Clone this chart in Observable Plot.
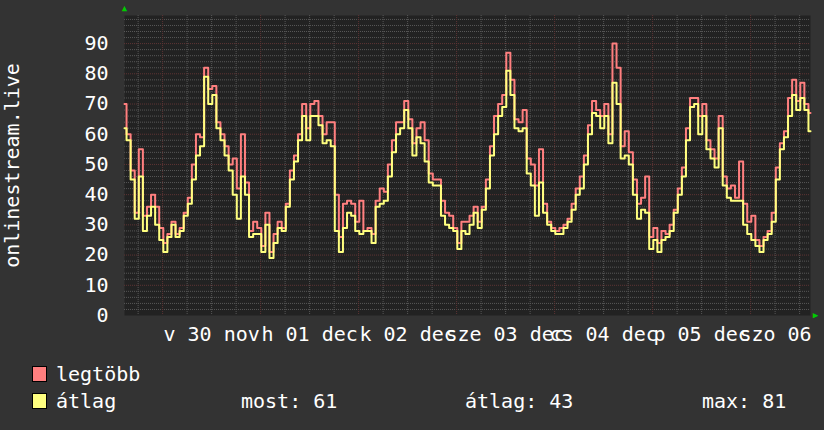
<!DOCTYPE html>
<html>
<head>
<meta charset="utf-8">
<script src="https://cdn.jsdelivr.net/npm/d3@7"></script>
<script src="https://cdn.jsdelivr.net/npm/@observablehq/plot@0.6"></script>
<style>
  html, body { margin: 0; padding: 0; background: #333333; }
  #wrap { position: relative; width: 824px; height: 430px; background: #333333; overflow: hidden; }
  #legend { position: relative; width: 824px; height: 85px; font-family: "DejaVu Sans Mono", monospace; font-size: 20px; line-height: 20px; color: #ffffff; }
  #legend .t { position: absolute; white-space: pre; }
  #legend .box { position: absolute; width: 13px; height: 14px; border: 1px solid #000; }
</style>
</head>
<body>
<div id="wrap">
  <div id="chart"></div>
  <div id="legend"></div>
</div>
<script>
// ---- data (hourly readings, starting 2025-11-29 14:40 UTC) ----
const startTime = "2025-11-29T14:40:00Z";
const endTime = "2025-12-06T14:40:00Z";

// "legtöbb" (maximum) series
const maxValues = [
  70, 60, 48, 34, 55, 33, 36, 40, 36, 29, 24, 27, 31, 27, 29, 34, 39, 50, 60, 59,
  82, 75, 76, 64, 60, 56, 50, 52, 42, 60, 44, 28, 31, 29, 23, 34, 21, 27, 31, 29,
  37, 48, 53, 60, 70, 62, 70, 71, 66, 60, 64, 64, 40, 26, 37, 38, 37, 31, 38, 28,
  29, 27, 38, 42, 41, 50, 58, 64, 64, 71, 65, 57, 62, 64, 58, 47, 45, 45, 38, 34,
  33, 29, 24, 31, 31, 33, 36, 31, 36, 45, 56, 66, 70, 73, 87, 78, 65, 64, 68, 52,
  50, 43, 55, 37, 31, 29, 28, 29, 30, 32, 37, 42, 46, 53, 63, 71, 68, 66, 70, 60,
  90, 82, 56, 61, 54, 45, 37, 39, 46, 26, 29, 24, 28, 27, 30, 35, 42, 49, 62, 72,
  72, 66, 70, 58, 55, 52, 66, 46, 42, 43, 39, 51, 37, 31, 33, 25, 23, 26, 28, 34,
  49, 57, 61, 72, 78, 71, 77, 70, 67
];

// "átlag" (average) series
const avgValues = [
  62, 58, 45, 32, 46, 28, 33, 36, 30, 25, 21, 26, 30, 26, 28, 33, 37, 45, 53, 56,
  79, 70, 73, 62, 58, 53, 48, 40, 32, 46, 40, 26, 27, 27, 21, 30, 19, 24, 29, 28,
  36, 45, 51, 58, 66, 58, 66, 66, 63, 57, 58, 56, 28, 21, 29, 34, 33, 28, 27, 28,
  28, 24, 36, 37, 38, 46, 54, 60, 62, 68, 62, 53, 59, 57, 51, 44, 43, 43, 33, 30,
  29, 28, 22, 28, 27, 30, 34, 29, 35, 42, 53, 60, 66, 69, 81, 73, 62, 61, 62, 47,
  43, 33, 44, 34, 30, 28, 27, 27, 29, 31, 35, 40, 42, 50, 60, 67, 66, 62, 66, 57,
  77, 70, 52, 53, 50, 40, 32, 35, 34, 22, 25, 21, 25, 26, 28, 34, 40, 46, 58, 69,
  70, 60, 66, 55, 52, 49, 62, 43, 39, 38, 38, 38, 30, 27, 25, 23, 21, 25, 27, 31,
  45, 55, 59, 66, 73, 68, 72, 68, 61
];

const yTicks = [0, 10, 20, 30, 40, 50, 60, 70, 80, 90];
const xTickTimes = [
  "2025-11-30T12:00:00Z", "2025-12-01T12:00:00Z", "2025-12-02T12:00:00Z",
  "2025-12-03T12:00:00Z", "2025-12-04T12:00:00Z", "2025-12-05T12:00:00Z",
  "2025-12-06T12:00:00Z"
];
const xTickLabels = ["v 30 nov", "h 01 dec", "k 02 dec", "sze 03 dec", "cs 04 dec", "p 05 dec", "szo 06 dec"];
const yTitle = "onlinestream.live";

const seriesNames = ["legtöbb", "átlag"];
const seriesColors = ["#ff7f7f", "#ffff7f"];
const statLabels = ["most: 61", "átlag: 43", "max: 81"];

// ---- build ----
const t0 = new Date(startTime);
const t1 = new Date(endTime);
const rows = maxValues.map((m, i) => ({
  t: new Date(t0.getTime() + i * 3600e3),
  max: m,
  avg: avgValues[i]
}));
const tickDates = xTickTimes.map(s => new Date(s));
const tickLabelOf = new Map(tickDates.map((d, i) => [+d, xTickLabels[i]]));
const yMax = 99.3;

const minorY = d3.range(2, 100, 2).filter(v => v % 10 !== 0);
const majorY = d3.range(10, 100, 10);
const allSix = d3.utcHour.every(6).range(t0, t1);
const majorX = allSix.filter(d => d.getUTCHours() === 0);
const minorX = allSix.filter(d => d.getUTCHours() !== 0);

const minorColor = "#575757";
const majorColor = "#5e3434";

const chart = Plot.plot({
  width: 824,
  height: 345,
  marginLeft: 124,
  marginRight: 14,
  marginTop: 15,
  marginBottom: 30,
  style: {
    background: "#333333",
    color: "#ffffff",
    fontFamily: "'DejaVu Sans Mono', monospace",
    fontSize: "20px",
    overflow: "visible"
  },
  x: {
    type: "utc",
    domain: [t0, t1],
    ticks: tickDates,
    tickFormat: d => tickLabelOf.get(+d) ?? "",
    tickSize: 0,
    tickPadding: 11,
    label: null
  },
  y: {
    domain: [0, yMax],
    ticks: yTicks,
    tickSize: 0,
    tickPadding: 16,
    label: null
  },
  marks: [
    Plot.frame({fill: "#222222", stroke: "none"}),
    Plot.ruleY(minorY, {stroke: minorColor, strokeDasharray: "1,1"}),
    Plot.ruleX(minorX, {stroke: minorColor, strokeDasharray: "1,1"}),
    Plot.ruleY(majorY, {stroke: majorColor, strokeDasharray: "1,1"}),
    Plot.ruleX(majorX, {stroke: majorColor, strokeDasharray: "1,1"}),
    Plot.line(rows, {x: "t", y: "max", stroke: seriesColors[0], strokeWidth: 2, curve: "step"}),
    Plot.line(rows, {x: "t", y: "avg", stroke: seriesColors[1], strokeWidth: 2, curve: "step"}),
    Plot.text([yTitle], {frameAnchor: "left", textAnchor: "middle", lineAnchor: "middle", dx: -112, rotate: -90, fill: "#ffffff", fontSize: 20, text: d => d}),
    Plot.text(["▲"], {x: () => t0, y: () => yMax, dy: -7, fill: "#00cc00", fontSize: 9, text: d => d}),
    Plot.text(["▶"], {x: () => t1, y: () => 0, dx: 5, fill: "#00cc00", fontSize: 9, text: d => d})
  ]
});
document.getElementById("chart").appendChild(chart);

// ---- legend ----
const legend = document.getElementById("legend");
function addText(txt, left, top) {
  const s = document.createElement("span");
  s.className = "t";
  s.textContent = txt;
  s.style.left = left + "px";
  s.style.top = top + "px";
  legend.appendChild(s);
}
function addBox(color, left, top) {
  const b = document.createElement("span");
  b.className = "box";
  b.style.background = color;
  b.style.left = left + "px";
  b.style.top = top + "px";
  legend.appendChild(b);
}
addBox(seriesColors[0], 32, 21);
addText(seriesNames[0], 56, 19);
addBox(seriesColors[1], 32, 48);
addText(seriesNames[1], 56, 46);
addText(statLabels[0], 241, 46);
addText(statLabels[1], 465, 46);
addText(statLabels[2], 702, 46);
</script>
</body>
</html>
